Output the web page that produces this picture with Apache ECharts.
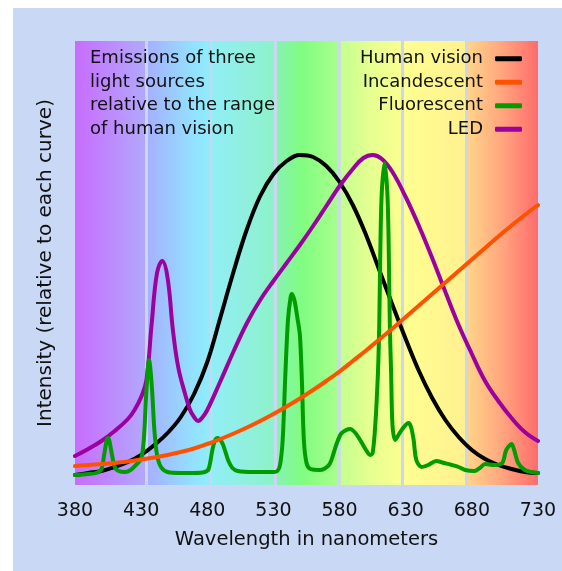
<!DOCTYPE html>
<html><head><meta charset="utf-8">
<script src="https://cdn.jsdelivr.net/npm/echarts@6/dist/echarts.min.js"></script>
<style>
html,body{margin:0;padding:0;background:#fff;}
#panel{position:absolute;left:13px;top:8px;width:549px;height:563px;background:#c9d8f4;}
#main{position:absolute;left:0;top:0;width:562px;height:571px;}
</style></head><body>
<div id="panel"></div><div id="main"></div>
<script>
const xMin = 380, xMax = 730, xStep = 50;
const yMax = 444;
const titleLines = ['Emissions of three', 'light sources', 'relative to the range', 'of human vision'];
const xAxisName = 'Wavelength in nanometers';
const yAxisName = 'Intensity (relative to each curve)';
const seriesNames = ['Human vision', 'Incandescent', 'Fluorescent', 'LED'];

const humanVision = [[380,10],[390,12],[400,14],[410,18],[420,23],[430,30],[440,40],[450,52],[460,68],[470,91],[480,123],[490,168],[500,214],[510,256],[520,289],[530,311],[540,324],[550,330],[560,328],[570,319],[580,303],[590,280],[600,250],[610,215],[620,180],[630,146],[640,114],[650,87],[660,65],[670,48],[680,35],[690,26],[700,20],[710,16],[720,13],[730,12]];

const incandescent = [[380,19],[390,20],[400,21],[410,22],[420,23.5],[430,25.5],[440,27.5],[450,30],[460,33],[470,36.5],[480,41],[490,46],[500,51.5],[510,57.5],[520,64],[530,71],[540,78.5],[550,86.5],[560,95],[570,104],[580,113.5],[590,124],[600,134.5],[610,145.5],[620,156.5],[630,168],[640,179.5],[650,191],[660,202.5],[670,214],[680,225.5],[690,237],[700,248.5],[710,259.5],[720,270],[730,280]];

const fluorescent = [[380,10],[390,11],[396,12],[400,16],[402,30],[404,45],[405,47],[406,44],[408,30],[410,18],[413,14],[418,13],[422,15],[426,20],[430,26],[432,45],[434,95],[436,125],[438,100],[440,55],[442,30],[445,18],[450,13],[460,12],[470,12],[478,13],[481,16],[484,36],[486,45],[488,47],[490,45],[492,40],[494,32],[496,24],[499,17],[503,14],[515,13],[530,13],[533,14],[535,20],[537,45],[539,110],[541,165],[543,188],[544,191],[546,184],[548,168],[550,150],[551.5,105],[553,45],[555,22],[558,16],[565,15],[572,20],[576,34],[578,42],[581,51],[585,55],[588,56],[592,52],[596,44],[600,35],[603,30],[605,32],[607,60],[609,112],[610,160],[611,250],[612,295],[614,322],[616,295],[617,250],[618,160],[619,110],[620,60],[622,45],[625,51],[628,57],[632,62],[634,58],[636,45],[638,25],[642,18],[647,20],[653,24],[659,22],[665,20],[670,18],[675,15],[682,14],[686,17],[690,21],[697,20],[703,22],[706,35],[710,41],[712,35],[715,22],[720,15],[725,13],[730,12]];

const led = [[380,29],[390,36],[400,44],[410,54],[420,66],[425,75],[430,88],[434,105],[438,162],[442,212],[446,224],[450,207],[454,155],[458,118],[463,92],[467,75],[470,68],[473,64],[476,67],[480,75],[490,104],[500,134],[510,162],[520,185],[530,204],[540,222],[550,240],[560,259],[570,279],[580,299],[590,316],[598,327],[605,330],[612,326],[620,313],[630,288],[640,259],[650,227],[660,193],[670,160],[680,131],[690,104],[700,84],[710,67],[720,53],[730,44]];

const seriesData = [humanVision, incandescent, fluorescent, led];
const seriesColors = ['#000000', '#ff5200', '#009c00', '#9c009e'];
const seriesZ = [2, 5, 4, 3];
const seriesSmooth = [0.4, 0.4, 0.3, 0.4];

const FONT = 'DejaVu Sans';
const chart = echarts.init(document.getElementById('main'), null, {renderer: 'canvas'});

// decorative spectrum background with thin pale gaps between colour bands
const GAP = '#cbd6f3';
const gapCenters = [0.1543, 0.2934, 0.4326, 0.5707, 0.7077, 0.8457];
const hg = 0.0028;
const bands = [
  [[0, '#c86cff'], [1, '#b2a8fc']],
  [[0, '#a6b0ff'], [0.75, '#92e2ff'], [1, '#90ecfc']],
  [[0, '#90eef6'], [0.6, '#90f0dc'], [1, '#8cf2c8']],
  [[0, '#88f2b4'], [0.4, '#80fc80'], [1, '#a8ff8c']],
  [[0, '#c4ff90'], [0.5, '#e6ff90'], [1, '#faff90']],
  [[0, '#ffff90'], [1, '#fff090']],
  [[0, '#ffd488'], [0.5, '#ffa47e'], [1, '#ff6c6c']]
];
const stops = [];
bands.forEach((b, i) => {
  const s = i === 0 ? 0 : gapCenters[i - 1] + hg;
  const e = i === bands.length - 1 ? 1 : gapCenters[i] - hg;
  if (i > 0) stops.push({offset: s - 0.0001, color: GAP});
  b.forEach(([t, c]) => stops.push({offset: s + (e - s) * t, color: c}));
  if (i < bands.length - 1) stops.push({offset: e + 0.0001, color: GAP});
});
const spectrum = new echarts.graphic.LinearGradient(0, 0, 1, 0, stops);

chart.setOption({
  backgroundColor: 'transparent',
  animation: false,
  textStyle: {fontFamily: FONT},
  title: {
    text: titleLines.join('\n'),
    left: 90, top: 47, padding: 0,
    textStyle: {fontFamily: FONT, fontSize: 18, fontWeight: 'normal', color: '#111', lineHeight: 23.5}
  },
  legend: {
    data: seriesNames,
    orient: 'vertical',
    align: 'right',
    right: 40, top: 47, padding: 0,
    itemWidth: 27, itemHeight: 5,
    itemGap: 0,
    icon: 'roundRect',
    textStyle: {fontFamily: FONT, fontSize: 18, color: '#111', lineHeight: 23.5, padding: [0, 7, 0, 0]}
  },
  grid: {
    left: 75, right: 24, top: 41, bottom: 86,
    show: true, backgroundColor: spectrum, borderWidth: 0
  },
  xAxis: {
    type: 'value', min: xMin, max: xMax, interval: xStep,
    name: xAxisName, nameLocation: 'middle', nameGap: 45,
    nameTextStyle: {fontFamily: FONT, fontSize: 19.5, color: '#111'},
    axisLine: {show: false}, axisTick: {show: false},
    axisLabel: {fontFamily: FONT, fontSize: 19, color: '#111', margin: 17},
    splitLine: {show: false}
  },
  yAxis: {
    type: 'value', min: 0, max: yMax,
    name: yAxisName, nameLocation: 'middle', nameGap: 19, nameRotate: 90,
    nameTextStyle: {fontFamily: FONT, fontSize: 20, color: '#111'},
    axisLine: {show: false}, axisTick: {show: false}, axisLabel: {show: false},
    splitLine: {show: false}
  },
  series: seriesNames.map((name, i) => ({
    name: name,
    type: 'line',
    data: seriesData[i],
    showSymbol: false,
    symbol: 'none',
    smooth: seriesSmooth[i],
    z: seriesZ[i],
    color: seriesColors[i],
    lineStyle: {color: seriesColors[i], width: 4, cap: 'round', join: 'round'}
  }))
});
</script>
</body></html>
